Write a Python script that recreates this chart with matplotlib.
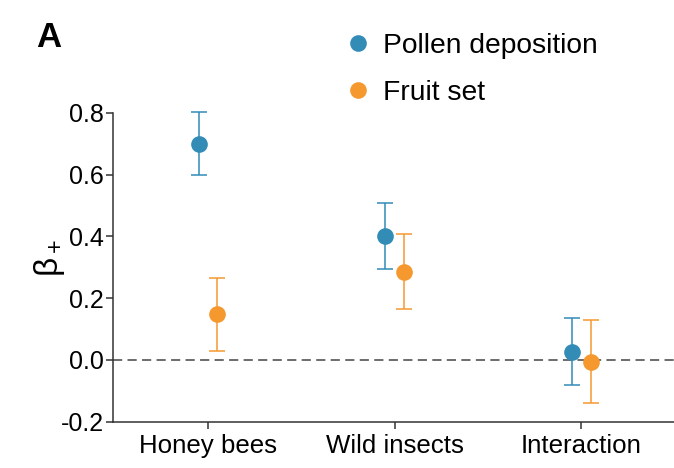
import matplotlib
matplotlib.use("Agg")
import matplotlib.pyplot as plt
from matplotlib.lines import Line2D
import numpy as np

plt.rcParams['font.family'] = ['Liberation Sans', 'DejaVu Sans']
plt.rcParams['mathtext.fontset'] = 'custom'
plt.rcParams['mathtext.rm'] = 'Liberation Sans'
plt.rcParams['mathtext.it'] = 'Liberation Sans'
plt.rcParams['axes.unicode_minus'] = False

categories = ["Honey bees", "Wild insects", "Interaction"]
pollen = [0.700, 0.402, 0.025]
pollen_lo = [0.597, 0.295, -0.081]
pollen_hi = [0.802, 0.507, 0.136]
fruit = [0.149, 0.286, -0.008]
fruit_lo = [0.030, 0.166, -0.140]
fruit_hi = [0.265, 0.408, 0.130]
yticks = [-0.2, 0.0, 0.2, 0.4, 0.6, 0.8]
series_labels = ["Pollen deposition", "Fruit set"]

blue = "#338cb6"
orange = "#f5992f"
axis_col = "#333333"

fig = plt.figure(figsize=(6.74, 4.68), dpi=100)
ax = fig.add_axes([0.168, 0.099, 0.832, 0.660])

x = np.arange(len(categories))
off = 0.05
for vals, lo, hi, col, dx in [(pollen, pollen_lo, pollen_hi, blue, -off),
                              (fruit, fruit_lo, fruit_hi, orange, off)]:
    v = np.array(vals)
    yerr = np.vstack([v - np.array(lo), np.array(hi) - v])
    cont = ax.errorbar(x + dx, v, yerr=yerr, fmt='none', ecolor=col,
                       elinewidth=1.1, capsize=6, capthick=1.1, zorder=3)
    for art in cont.lines[1]:
        art.set_clip_on(False)
    for art in cont.lines[2]:
        art.set_clip_on(False)
    ax.plot(x + dx, v, 'o', color=col, ms=12, mew=0, zorder=4, clip_on=False)

ax.axhline(0, color='#444444', lw=1.1, ls=(0, (6, 3.5)), zorder=1)

ax.set_xlim(-0.508, 2.497)
ax.set_ylim(-0.2, 0.8)
ax.set_xticks(x)
ax.set_xticklabels(categories, fontsize=18.6)
ax.set_yticks(yticks)
ax.set_yticklabels([f"{t:.1f}" for t in yticks], fontsize=18)
ax.tick_params(axis='both', direction='out', length=5, width=1.1, color=axis_col, pad=2)
ax.tick_params(axis='x', pad=4)
for s in ['top', 'right']:
    ax.spines[s].set_visible(False)
for s in ['left', 'bottom']:
    ax.spines[s].set_color(axis_col)
    ax.spines[s].set_linewidth(1.1)

ax.set_ylabel(r'$\beta_+$', fontsize=24)
ax.yaxis.set_label_coords(-0.082, 0.53)

handles = [Line2D([], [], marker='o', ls='', color=blue, ms=12, mew=0),
           Line2D([], [], marker='o', ls='', color=orange, ms=12, mew=0)]
fig.legend(handles, series_labels, loc='upper left', bbox_to_anchor=(0.51, 0.93),
           frameon=False, fontsize=20.3, handlelength=1.0, handletextpad=0.4,
           labelspacing=0.75, borderaxespad=0, borderpad=0)

fig.text(0.053, 0.955, "A", fontsize=25, fontweight='bold', va='top', ha='left')

fig.savefig("out.png", dpi=100)
